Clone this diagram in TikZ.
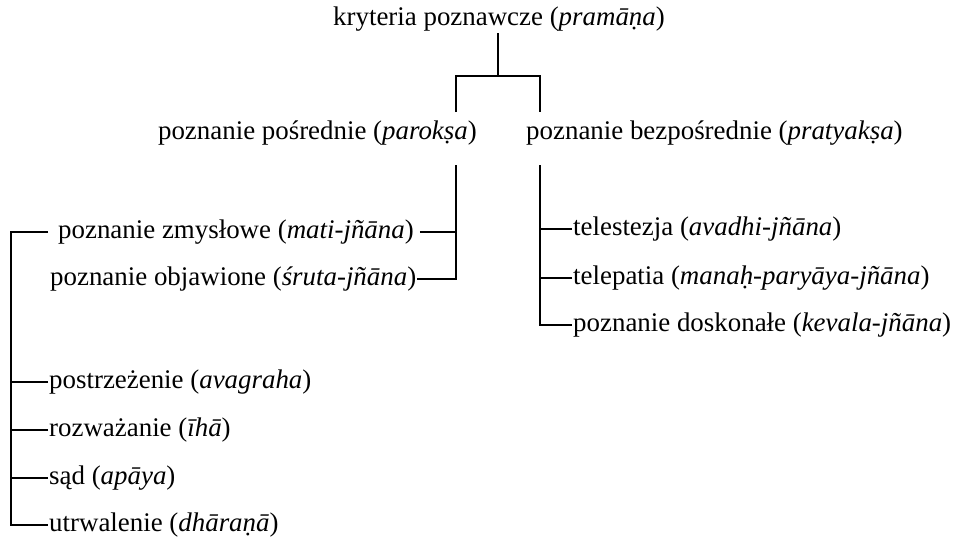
\documentclass[tikz,border=0pt]{standalone}
\usepackage{fontspec}
\setmainfont{Liberation Serif}
\usepackage{tikz}
\usetikzlibrary{calc}

\begin{document}
\begin{tikzpicture}[x=1pt,y=-1pt,
	lbl/.style={inner xsep=1pt, inner ysep=2pt, font=\fontsize{26.9}{31}\selectfont},
	tree/.style={line width=1.5pt},
	stem/.style={line width=1.2pt}]
	\useasboundingbox (0,0) rectangle (961,536);
	% labels
	\node[lbl] (root) at (499,19) {kryteria poznawcze (\textit{pramāṇa})};
	\node[lbl, anchor=east] (paroksa) at (478,133) {poznanie pośrednie (\textit{parokṣa})};
	\node[lbl, anchor=west] (pratyaksa) at (525,133) {poznanie bezpośrednie (\textit{pratyakṣa})};
	\node[lbl, anchor=west] (mati) at (57,232) {poznanie zmysłowe (\textit{mati-jñāna})};
	\node[lbl, anchor=west] (sruta) at (49,279) {poznanie objawione (\textit{śruta-jñāna})};
	\node[lbl, anchor=west] (avadhi) at (572,229) {telestezja (\textit{avadhi-jñāna})};
	\node[lbl, anchor=west] (manah) at (572,278) {telepatia (\textit{manaḥ-paryāya-jñāna})};
	\node[lbl, anchor=west] (kevala) at (572,325) {poznanie doskonałe (\textit{kevala-jñāna})};
	\node[lbl, anchor=west] (avagraha) at (48,382) {postrzeżenie (\textit{avagraha})};
	\node[lbl, anchor=west] (iha) at (48,430) {rozważanie (\textit{īhā})};
	\node[lbl, anchor=west] (apaya) at (48,478) {sąd (\textit{apāya})};
	\node[lbl, anchor=west] (dharana) at (48,525) {utrwalenie (\textit{dhāraṇā})};
	% helper points
	\coordinate (fork) at (498,76);
	\coordinate (lfoot) at (456,112);
	\coordinate (rfoot) at (540,112);
	\coordinate (ltop) at (456,165);
	\coordinate (rtop) at (540,165);
	\coordinate (spine) at (11,525);
	% connectors
	\draw[stem] (root.south -| fork) -- (fork);
	\draw[tree] (lfoot) |- (fork) -| (rfoot);
	\draw[tree] (ltop) |- (sruta.east);
	\draw[tree] ([xshift=5pt]mati.east) -- (mati.east -| ltop);
	\draw[tree] (rtop) |- (kevala.west);
	\foreach \n in {avadhi,manah}
		\draw[tree] (\n.west) -- (\n.west -| rtop);
	\draw[tree] ([xshift=-9pt]mati.west) -| (spine) -- (dharana.west);
	\foreach \n in {avagraha,iha,apaya}
		\draw[tree] (\n.west) -- (\n.west -| spine);
\end{tikzpicture}
\end{document}
